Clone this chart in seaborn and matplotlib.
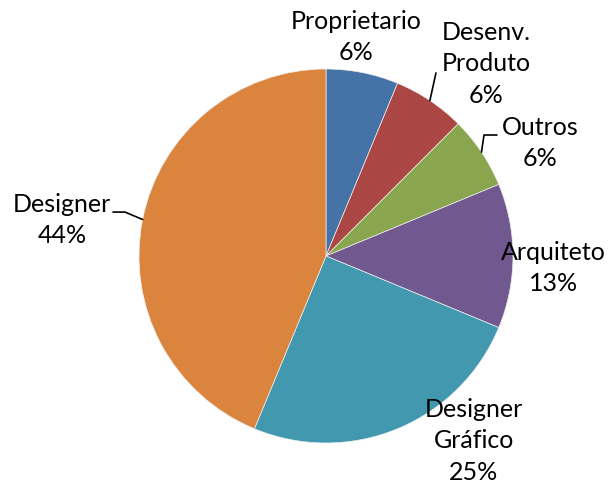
import numpy as np
import matplotlib
matplotlib.use("Agg")
import matplotlib.pyplot as plt
import seaborn as sns

# Data
categories = ["Proprietario", "Desenv.\nProduto", "Outros", "Arquiteto",
              "Designer\nGráfico", "Designer"]
values = [1, 1, 1, 2, 4, 7]
colors = ["#4572A7", "#AA4643", "#89A54E", "#71588F", "#4198AF", "#DB843D"]

sns.set_theme(style="white")
plt.rcParams['font.family'] = ['Lato', 'DejaVu Sans']

fig = plt.figure(figsize=(6.09, 4.83), dpi=100)
ax = fig.add_axes([0, 0, 1, 1])

wedges, _ = ax.pie(values, colors=colors, startangle=90, counterclock=False,
                   radius=1, wedgeprops=dict(edgecolor="#f0f0f0", linewidth=0.5))

total = sum(values)
pcts = [f"{int(v / total * 100 + 0.5)}%" for v in values]

# label layout (data coords, radius = 1)
label_pos = [(0.16, 1.171), (0.856, 1.027), (1.144, 0.604),
             (1.214, -0.064), (0.791, -0.989), (-1.412, 0.193)]

for w, cat, pct, (lx, ly) in zip(wedges, categories, pcts, label_pos):
    ax.text(lx, ly, f"{cat}\n{pct}", ha="center", va="center",
            fontsize=18, color="black", linespacing=1.45)

# leader lines
def mid(w):
    a = np.deg2rad((w.theta1 + w.theta2) / 2)
    return np.cos(a), np.sin(a)

x0, y0 = mid(wedges[1])
ax.plot([x0, 0.588], [y0, 0.979], color="black", lw=1.2)
x0, y0 = mid(wedges[2])
ax.plot([x0, 0.845, 0.914], [y0, 0.647, 0.647], color="black", lw=1.2)
x0, y0 = mid(wedges[5])
ax.plot([x0, -1.075, -1.139], [y0, 0.235, 0.235], color="black", lw=1.2)

ax.set_xlim(-326 / 187, (609 - 326) / 187)
ax.set_ylim(-(483 - 256) / 187, 256 / 187)
ax.set_aspect("equal")
ax.axis("off")

fig.savefig("out.png", dpi=100, facecolor="white")
